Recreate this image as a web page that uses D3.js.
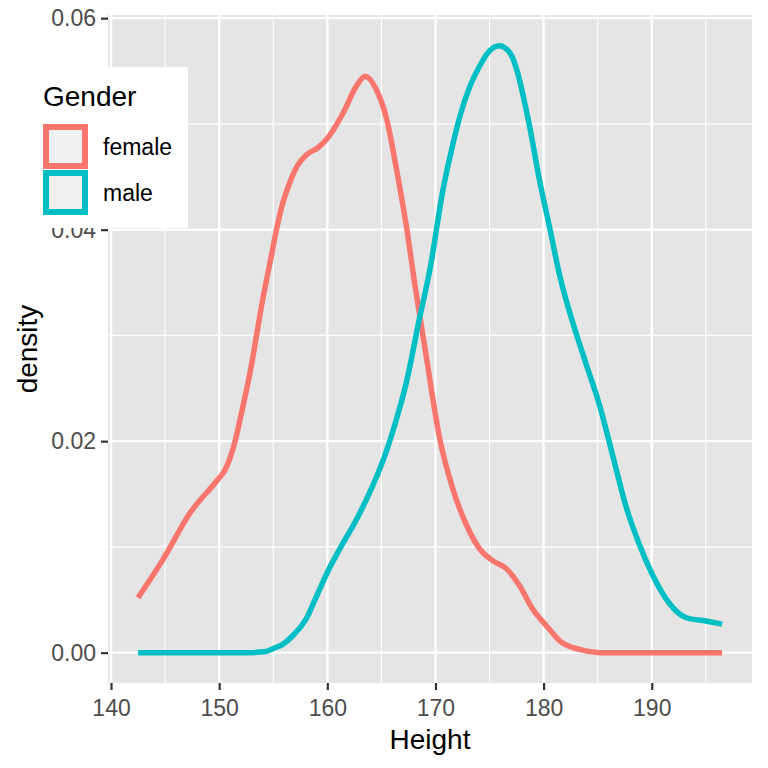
<!DOCTYPE html>
<html>
<head>
<meta charset="utf-8">
<script src="https://cdn.jsdelivr.net/npm/d3@7"></script>
<style>
  body { margin: 0; background: #fff; }
  text { font-family: "Liberation Sans", Arial, sans-serif; }
</style>
</head>
<body>
<svg id="chart" width="768" height="768"></svg>
<script>
// heights (cm) and density estimates
const femaleHeight = [142.5, 144.8, 147.3, 149.9, 150.5, 151.0, 151.5, 151.9, 152.8, 154.1, 154.8, 155.3, 155.8, 156.4, 157.2, 158.1, 159.2, 160.2, 161.5, 162.7, 163.5, 164.5, 165.5, 166.4, 167.3, 168.2, 169.0, 170.4, 171.6, 172.9, 174.1, 175.3, 176.6, 177.8, 179.0, 180.3, 181.5, 183.3, 185.2, 190.0, 196.5];
const femaleDensity = [0.0052, 0.0088, 0.0132, 0.0164, 0.0172, 0.0184, 0.0201, 0.0219, 0.0262, 0.0338, 0.0374, 0.0400, 0.0422, 0.0441, 0.0460, 0.0471, 0.0478, 0.0489, 0.0511, 0.0536, 0.0545, 0.0533, 0.0504, 0.0457, 0.0404, 0.0341, 0.0290, 0.0202, 0.0155, 0.0120, 0.0098, 0.0087, 0.0079, 0.0063, 0.0041, 0.0025, 0.0011, 0.0003, 0.0000, 0.0000, 0.0000];

const maleHeight = [142.5, 148.0, 152.5, 154.3, 155.0, 155.9, 156.8, 158.1, 159.2, 160.2, 161.2, 162.7, 163.9, 165.2, 166.4, 167.3, 168.5, 169.5, 170.7, 171.5, 172.2, 173.2, 174.1, 175.0, 175.9, 176.9, 177.5, 178.1, 178.7, 179.6, 180.6, 181.5, 182.7, 183.8, 185.2, 186.4, 187.6, 188.9, 190.1, 191.6, 193.2, 195.0, 196.5];
const maleDensity = [0.0000, 0.0000, 0.0000, 0.0001, 0.0004, 0.0008, 0.0016, 0.0033, 0.0058, 0.0080, 0.0099, 0.0126, 0.0151, 0.0183, 0.0221, 0.0255, 0.0315, 0.0363, 0.0438, 0.0476, 0.0505, 0.0536, 0.0555, 0.0569, 0.0574, 0.0567, 0.0552, 0.0527, 0.0498, 0.0448, 0.0400, 0.0356, 0.0312, 0.0277, 0.0233, 0.0186, 0.0139, 0.0101, 0.0073, 0.0047, 0.0033, 0.0030, 0.0027];

const genders = ['female', 'male'];
const colors = ['#F8766D', '#00BFC4'];
const xTicks = [140, 150, 160, 170, 180, 190];
const xMinor = [145, 155, 165, 175, 185, 195];
const yTicks = [0, 0.02, 0.04, 0.06];
const yMinor = [0.01, 0.03, 0.05];

const series = [
  { name: 'female', pts: femaleHeight.map((h, i) => [h, femaleDensity[i]]) },
  { name: 'male', pts: maleHeight.map((h, i) => [h, maleDensity[i]]) },
];

const svg = d3.select('#chart');

// panel box
const margin = { top: 15, right: 16, bottom: 85, left: 108 };
const width = 768 - margin.left - margin.right;
const height = 768 - margin.top - margin.bottom;

const x = d3.scaleLinear().domain([139.72, 199.27]).range([0, width]);
const y = d3.scaleLinear().domain([-0.00287, 0.0603]).range([height, 0]);
const color = d3.scaleOrdinal().domain(genders).range(colors);

const g = svg.append('g').attr('transform', `translate(${margin.left}, ${margin.top})`);

g.append('rect').attr('width', width).attr('height', height).attr('fill', '#E5E5E5');

// minor grid
g.selectAll('.xminor').data(xMinor).enter().append('line')
  .attr('x1', (d) => x(d)).attr('x2', (d) => x(d)).attr('y1', 0).attr('y2', height)
  .attr('stroke', '#fff').attr('stroke-width', 1.2);
g.selectAll('.yminor').data(yMinor).enter().append('line')
  .attr('x1', 0).attr('x2', width).attr('y1', (d) => y(d)).attr('y2', (d) => y(d))
  .attr('stroke', '#fff').attr('stroke-width', 1.2);

// major grid
g.selectAll('.xmajor').data(xTicks).enter().append('line')
  .attr('x1', (d) => x(d)).attr('x2', (d) => x(d)).attr('y1', 0).attr('y2', height)
  .attr('stroke', '#fff').attr('stroke-width', 2.4);
g.selectAll('.ymajor').data(yTicks).enter().append('line')
  .attr('x1', 0).attr('x2', width).attr('y1', (d) => y(d)).attr('y2', (d) => y(d))
  .attr('stroke', '#fff').attr('stroke-width', 2.4);

// density curves
const line = d3.line()
  .x((d) => x(d[0]))
  .y((d) => y(d[1]))
  .curve(d3.curveMonotoneX);

g.selectAll('.curve').data(series).enter().append('path')
  .attr('d', (d) => line(d.pts))
  .attr('fill', 'none')
  .attr('stroke', (d) => color(d.name))
  .attr('stroke-width', 5.5);

// axes
const xAxis = d3.axisBottom(x).tickValues(xTicks).tickSize(7).tickPadding(5).tickFormat(d3.format('d'));
const yAxis = d3.axisLeft(y).tickValues(yTicks).tickSize(7).tickPadding(5).tickFormat(d3.format('.2f'));

const gx = g.append('g').attr('transform', `translate(0, ${height})`).call(xAxis);
const gy = g.append('g').call(yAxis);

[gx, gy].forEach((a) => {
  a.select('.domain').remove();
  a.selectAll('line').attr('stroke', '#333').attr('stroke-width', 2.2);
  a.selectAll('text').attr('fill', '#4D4D4D').style('font-size', '23px');
});
gx.selectAll('text').attr('dy', '0.9em');

// axis titles
svg.append('text')
  .attr('x', margin.left + width / 2).attr('y', 749)
  .attr('text-anchor', 'middle').style('font-size', '28px').text('Height');
svg.append('text')
  .attr('transform', `translate(37, ${margin.top + height / 2}) rotate(-90)`)
  .attr('text-anchor', 'middle').style('font-size', '28px').text('density');

// legend
const legend = svg.append('g');
legend.append('rect').attr('x', 20).attr('y', 67).attr('width', 168).attr('height', 161).attr('fill', '#fff');
legend.append('text').attr('x', 43).attr('y', 106).style('font-size', '28px').text('Gender');

const keys = legend.selectAll('.key').data(genders).enter().append('g')
  .attr('transform', (d, i) => `translate(43, ${124 + i * 46})`);
keys.append('rect').attr('x', 3).attr('y', 3).attr('width', 39).attr('height', 39)
  .attr('fill', '#F0F0F0').attr('stroke', (d) => color(d)).attr('stroke-width', 6);
keys.append('text').attr('x', 60).attr('y', 23).attr('dy', '0.35em')
  .style('font-size', '23px').text((d) => d);
</script>
</body>
</html>
